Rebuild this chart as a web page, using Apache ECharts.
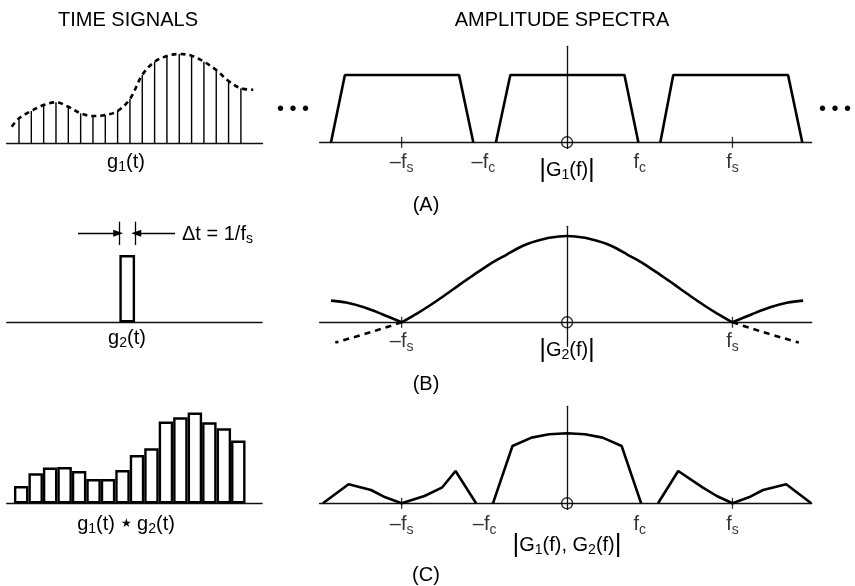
<!DOCTYPE html>
<html><head><meta charset="utf-8">
<script src="https://cdn.jsdelivr.net/npm/echarts@6/dist/echarts.min.js"></script>
<style>html,body{margin:0;padding:0;background:#fff}#c{width:855px;height:586px}</style>
</head><body><div id="c"></div>
<script>
// ---------------- DATA ----------------
// (A) time signal: sampled stems (sample index, amplitude)
const stemIndexA = [1,2,3,4,5,6,7,8,9,10,11,12,13,14,15,16,17,18,19];
const stemValueA = [24.7,32,38,40.7,36.3,29.7,27,28,32,44,68,81.3,87,89,87.3,81.3,73,62,54.7];
// (A) dashed envelope
const envelopeXA = [0.41,1,2,3,4,5,6,7,8,9,10,11,12,13,14,15,16,17,18,19,20];
const envelopeYA = [16.3,24.7,32,38,40.7,36.3,29.7,27,28,32,44,68,81.3,87,89,87.3,81.3,73,62,54.7,53.3];
// (B) time signal: single pulse
const pulseCenterB = 8.325;
const pulseHeightB = 67.3;
// (C) time signal: sample-and-hold bars
const barIndexC = [1,2,3,4,5,6,7,8,9,10,11,12,13,14,15,16];
const barValueC = [17.3,30,35.7,36.3,32.3,24.3,24.3,33.3,48.3,55,81.7,86,90.7,81,75,62.7];

// frequency axis in units of fs
const trapLeftX  = [-1.427,-1.343,-0.653,-0.567];
const trapMidX   = [-0.430,-0.343,0.347,0.431];
const trapRightX = [0.564,0.642,1.336,1.422];
const trapY      = [0,67.3,67.3,0];

// (B) |G2(f)| main lobe and side lobes
const lobeXB = [-1.0,-0.905,-0.83,-0.754,-0.69,-0.625,-0.56,-0.496,-0.43,-0.367,-0.3,-0.237,-0.18,-0.108,-0.05,0,0.05,0.108,0.18,0.237,0.3,0.367,0.43,0.496,0.56,0.625,0.69,0.754,0.83,0.905,1.0];
const lobeYB = [0,9,16.8,25.3,32.8,40.5,48,55,62,67.5,73.8,78.5,81.5,84.5,85.8,86.3,85.8,84.5,81.5,78.5,73.8,67.5,62,55,48,40.5,32.8,25.3,16.8,9,0];
const sideLeftXB  = [-1.427,-1.336,-1.228,-1.121,-1.0];
const sideLeftYB  = [21.7,19.7,15,8.3,0];
const sideRightXB = [1.0,1.121,1.228,1.336,1.427];
const sideRightYB = [0,8.3,15,19.7,21.7];
const dashLeftXB  = [-1.0,-1.185,-1.401];
const dashLeftYB  = [0,-9.8,-20.3];
const dashRightXB = [1.0,1.185,1.401];
const dashRightYB = [0,-9.8,-20.3];

// (C) |G1(f) G2(f)|
const cMidX = [-0.448,-0.330,-0.215,-0.108,0,0.108,0.215,0.330,0.448];
const cMidY = [0,57.3,65.7,69,70,69,65.7,57.3,0];
const cLeftX = [-1.476,-1.321,-1.185,-1.099,-1.0,-0.862,-0.754,-0.674,-0.550];
const cLeftY = [0,19,13.3,6,0,7.3,16,32.3,0];
const cRightX = [0.550,0.672,0.819,0.905,1.0,1.099,1.185,1.325,1.476];
const cRightY = [0,32.3,16,7.3,0,6,13.3,19,0];

// tick labels on frequency axes
const tickPosA = [-1,-0.506,0.44,1];
const tickTxtA = ['–f{s|s}','–f{s|c}','f{s|c}','f{s|s}'];
const tickPosB = [-1,1];
const tickTxtB = ['–f{s|s}','f{s|s}'];
const tickPosC = [-1,-0.498,0.44,1];
const tickTxtC = ['–f{s|s}','–f{s|c}','f{s|c}','f{s|s}'];
const fsTicks = [-1,1];

// ---------------- CHART ----------------
const FONT = '"Liberation Sans", Arial, Helvetica, sans-serif';
const INK = '#000';
const FS = 20;
const zip = (xs, ys) => xs.map((x, i) => [x, ys[i]]);
const rich = {
  s: { fontSize: 14, fontFamily: FONT, color: INK, padding: [10, 0, 0, 0] },
  b: { fontSize: 26, fontFamily: FONT, color: INK },
  st: { fontSize: 12, fontFamily: FONT, color: INK }
};

const FL = 319.6, FW = 492.1;   // frequency plots: x from -1.496 to 1.479
const grids = [
  { left: 6.67, top: 43, width: 255.8, height: 100 },     // 0 time A
  { left: 6.73, top: 212.3, width: 255.3, height: 110 },  // 1 time B
  { left: 6.73, top: 403.3, width: 255.3, height: 100 },  // 2 time C
  { left: FL, top: 46.3, width: FW, height: 102 },        // 3 freq A
  { left: FL, top: 226.3, width: FW, height: 120 },       // 4 freq B
  { left: FL, top: 406.3, width: FW, height: 103 }        // 5 freq C
];

const axisLine = { show: true, onZero: true, lineStyle: { color: '#111', width: 1.3 } };
function timeX(grid, max) {
  return { type: 'value', gridIndex: grid, min: 0, max: max, axisLine: axisLine,
    axisTick: { show: false }, axisLabel: { show: false }, splitLine: { show: false } };
}
function timeY(grid, max) {
  return { type: 'value', gridIndex: grid, min: 0, max: max, show: false };
}
function freqX(grid) {
  return { type: 'value', gridIndex: grid, min: -1.496, max: 1.479, axisLine: axisLine,
    axisTick: { show: false }, splitLine: { show: false }, axisLabel: { show: false } };
}
function freqY(grid, min, max) {
  return { type: 'value', gridIndex: grid, min: min, max: max,
    axisLine: { show: true, onZero: true, lineStyle: { color: '#111', width: 1.3 } },
    axisTick: { show: false }, axisLabel: { show: false }, splitLine: { show: false } };
}

const lineBase = (xi, data, extra) => Object.assign({
  type: 'line', xAxisIndex: xi, yAxisIndex: xi, data: data, symbol: 'none',
  lineStyle: { color: INK, width: 2.6 }, silent: true, animation: false
}, extra || {});

const origin = (xi) => ({
  type: 'scatter', xAxisIndex: xi, yAxisIndex: xi, data: [[0, 0]], symbol: 'circle', symbolSize: 11,
  itemStyle: { color: 'rgba(0,0,0,0)', borderColor: INK, borderWidth: 1.4 }, z: 5, silent: true
});
const fsMarks = (xi) => ({
  type: 'scatter', xAxisIndex: xi, yAxisIndex: xi, data: fsTicks.map(x => [x, 0]), symbol: 'rect',
  symbolSize: [1.3, 11], itemStyle: { color: INK }, z: 5, silent: true
});
const tickLabels = (xi, pos, txt, dist) => ({
  type: 'scatter', xAxisIndex: xi, yAxisIndex: xi, symbolSize: 1, silent: true,
  itemStyle: { color: 'rgba(0,0,0,0)' },
  data: pos.map((p, i) => ({ value: [p, 0], label: { formatter: txt[i] } })),
  label: { show: true, position: 'bottom', distance: dist, fontSize: FS, fontFamily: FONT, color: INK, rich: rich }
});

const txt = (x, y, text, extra) => ({ type: 'text', x: x, y: y,
  style: Object.assign({ text: text, fontSize: FS, fontFamily: FONT, fill: INK, align: 'center', verticalAlign: 'middle', rich: rich }, extra || {}) });

const option = {
  animation: false,
  backgroundColor: '#fff',
  grid: grids,
  xAxis: [ timeX(0, 20.75), timeX(1, 17.64), timeX(2, 17.64), freqX(3), freqX(4), freqX(5) ],
  yAxis: [ timeY(0, 100), timeY(1, 110), timeY(2, 100), freqY(3, -6, 96), freqY(4, -24, 96), freqY(5, -6, 97) ],
  series: [
    // time A
    { type: 'bar', xAxisIndex: 0, yAxisIndex: 0, data: zip(stemIndexA, stemValueA), barWidth: 1.4,
      itemStyle: { color: INK }, silent: true },
    lineBase(0, zip(envelopeXA, envelopeYA), { smooth: 0.35, lineStyle: { color: INK, width: 2.6, type: [5, 4] } }),
    // time B
    { type: 'bar', xAxisIndex: 1, yAxisIndex: 1, data: [[pulseCenterB, pulseHeightB]], barWidth: 15.7,
      itemStyle: { color: '#fff', borderColor: INK, borderWidth: 2.4 }, silent: true,
      markLine: {
        silent: true, symbol: ['none', 'triangle'], symbolSize: [7, 10], label: { show: false },
        lineStyle: { color: INK, width: 1.3, type: 'solid' },
        data: [
          [{ coord: [4.925, 89] }, { coord: [7.70, 89] }],
          [{ coord: [11.63, 89] }, { coord: [8.95, 89] }],
          [{ coord: [7.78, 77.3], symbol: 'none' }, { coord: [7.78, 100.6], symbol: 'none' }],
          [{ coord: [8.865, 77.3], symbol: 'none' }, { coord: [8.865, 100.6], symbol: 'none' }]
        ]
      } },
    // time C
    { type: 'bar', xAxisIndex: 2, yAxisIndex: 2, data: zip(barIndexC, barValueC), barWidth: 14.47,
      itemStyle: { color: '#fff', borderColor: INK, borderWidth: 2.4 }, silent: true },
    // freq A
    lineBase(3, zip(trapLeftX, trapY)), lineBase(3, zip(trapMidX, trapY)), lineBase(3, zip(trapRightX, trapY)),
    origin(3), fsMarks(3), tickLabels(3, tickPosA, tickTxtA, 8),
    // freq B
    lineBase(4, zip(lobeXB, lobeYB), { smooth: 0.3 }),
    lineBase(4, zip(sideLeftXB, sideLeftYB), { smooth: 0.3 }),
    lineBase(4, zip(sideRightXB, sideRightYB), { smooth: 0.3 }),
    lineBase(4, zip(dashLeftXB, dashLeftYB), { smooth: 0.3, lineStyle: { color: INK, width: 2.6, type: [6, 5] } }),
    lineBase(4, zip(dashRightXB, dashRightYB), { smooth: 0.3, lineStyle: { color: INK, width: 2.6, type: [6, 5] } }),
    origin(4), fsMarks(4), tickLabels(4, tickPosB, tickTxtB, 7),
    // freq C
    lineBase(5, zip(cMidX, cMidY)), lineBase(5, zip(cLeftX, cLeftY)), lineBase(5, zip(cRightX, cRightY)),
    origin(5), fsMarks(5), tickLabels(5, tickPosC, tickTxtC, 9)
  ],
  graphic: [
    txt(128, 20, 'TIME SIGNALS'),
    txt(562, 20, 'AMPLITUDE SPECTRA'),
    txt(126, 162, 'g{s|1}(t)'),
    txt(127, 338, 'g{s|2}(t)'),
    txt(126, 524, 'g{s|1}(t) {st|★} g{s|2}(t)'),
    txt(567, 170, '{b||}G{s|1}(f){b||}'),
    txt(567, 350, '{b||}G{s|2}(f){b||}'),
    txt(567, 545, '{b||}G{s|1}(f), G{s|2}(f){b||}'),
    txt(426, 205, '(A)'),
    txt(426, 384, '(B)'),
    txt(426, 575, '(C)'),
    txt(182, 234, 'Δt = 1/f{s|s}', { align: 'left' }),
    txt(293, 109, '• • •'),
    txt(835, 109, '• • •')
  ]
};
const chart = echarts.init(document.getElementById('c'));
chart.setOption(option);
</script>
</body></html>
